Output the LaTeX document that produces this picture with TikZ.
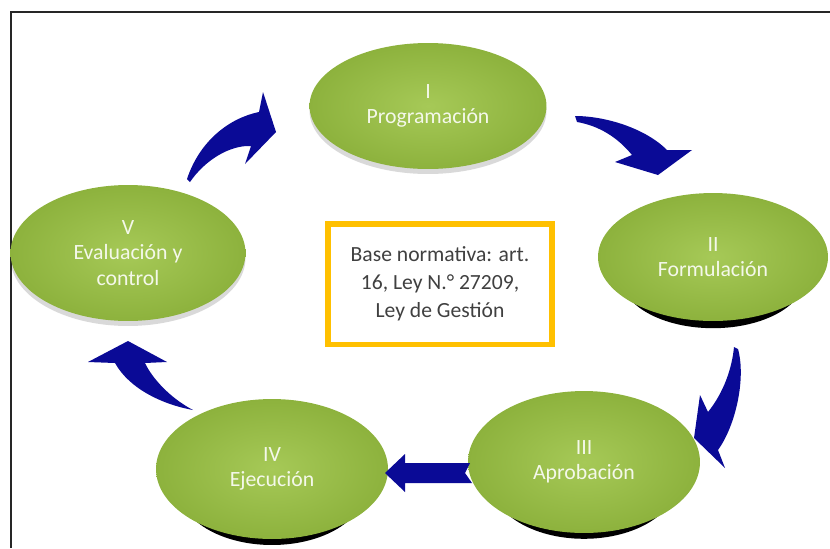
\documentclass[tikz,border=0pt]{standalone}
\usepackage{fontspec}
\setmainfont{Carlito}
\usetikzlibrary{shapes.geometric,shadows}
\definecolor{phaselight}{HTML}{A6C957}
\definecolor{phasedark}{HTML}{8DB23D}
\definecolor{cycleblue}{HTML}{0A0A96}
\definecolor{normgold}{HTML}{FFC000}
\definecolor{phasetext}{HTML}{F4F8EA}
\definecolor{normtext}{HTML}{404040}
\tikzset{
  phasebox/.style={
    ellipse,
    inner color=phaselight,
    outer color=phasedark,
    text=phasetext,
    align=center,
    minimum width=4.64cm,
    minimum height=2.6cm,
    font=\fontsize{12.4}{14.5}\selectfont
  },
  darkshadow/.style={
    drop shadow={shadow xshift=0pt, shadow yshift=-0.5cm,
      shadow scale=0.8, opacity=1, fill=black}
  },
  softshadow/.style={
    drop shadow={shadow xshift=0pt, shadow yshift=-0.1cm,
      opacity=0.15, fill=black}
  },
  normbox/.style={
    draw=normgold,
    line width=3.4pt,
    fill=white,
    minimum width=4.48cm,
    minimum height=2.42cm,
    align=center,
    text=normtext,
    font=\fontsize{12.3}{16}\selectfont,
    drop shadow={shadow xshift=0.06cm, shadow yshift=-0.06cm, opacity=0.25}
  },
  cyclearrow/.style={
    fill=cycleblue
  }
}

\begin{document}
\begin{tikzpicture}[x=0.02cm, y=-0.02cm]
\useasboundingbox (0,0) rectangle (830,548);
% frame
\draw[line width=1.1pt, black!85] (11,548) -- (11,12) -- (830,12);

% phases
\node[phasebox, softshadow, minimum width=4.74cm, minimum height=2.52cm] (prog) at (428,106) {I\\Programación};
\node[phasebox, darkshadow, minimum width=4.6cm, minimum height=2.56cm] (form) at (713,257) {II\\Formulación};
\node[phasebox, darkshadow, minimum height=2.84cm] (aprob) at (584,462) {III\\Aprobación};
\node[phasebox, darkshadow, minimum height=2.8cm] (ejec) at (272,469) {IV\\Ejecución};
\node[phasebox, softshadow, minimum width=4.7cm, minimum height=2.72cm] (eval) at (128,253) {V\\Evaluación y\\control};

% legal basis
\node[normbox] (base) at (440,284) {Base normativa: art.\\16, Ley N.° 27209,\\Ley de Gestión};

% arrow ends
\coordinate (prog-out) at (575,116);
\coordinate (form-in) at (658,175);
\coordinate (form-out) at (734,347);
\coordinate (aprob-in) at (694,438);
\coordinate (aprob-out) at (470,463);
\coordinate (ejec-in) at (385,473);
\coordinate (ejec-out) at (193,410);
\coordinate (eval-in) at (128,341);
\coordinate (eval-out) at (187,179);
\coordinate (prog-in) at (276,132);

% arrows
\fill[cyclearrow] (prog-out) .. controls (605,116) and (645,128) .. (667,150)
  -- (692,150) -- (form-in) -- (615,162) -- (632,155)
  .. controls (618,138) and (600,126) .. (577,122) -- cycle;
\fill[cyclearrow] (form-out) -- (738,349) .. controls (746,378) and (736,425) .. (718,450)
  -- (725,468) -- (aprob-in) -- (700,395) -- (708,412)
  .. controls (724,392) and (732,368) .. (form-out) -- cycle;
\fill[cyclearrow] (aprob-out) -- (405,463) -- (405,454) -- (ejec-in) -- (405,492)
  -- (405,483) -- (472,483) -- (465,473) -- cycle;
\fill[cyclearrow] (ejec-out) .. controls (165,405) and (130,390) .. (115,363)
  -- (88,362) -- (eval-in) -- (167,362) -- (145,363)
  .. controls (152,378) and (170,398) .. (ejec-out) -- cycle;
\fill[cyclearrow] (eval-out) .. controls (200,140) and (230,118) .. (259,112)
  -- (263,92) -- (prog-in) -- (245,164) -- (251,146)
  .. controls (230,145) and (205,160) .. (190,182) -- cycle;
\end{tikzpicture}
\end{document}
